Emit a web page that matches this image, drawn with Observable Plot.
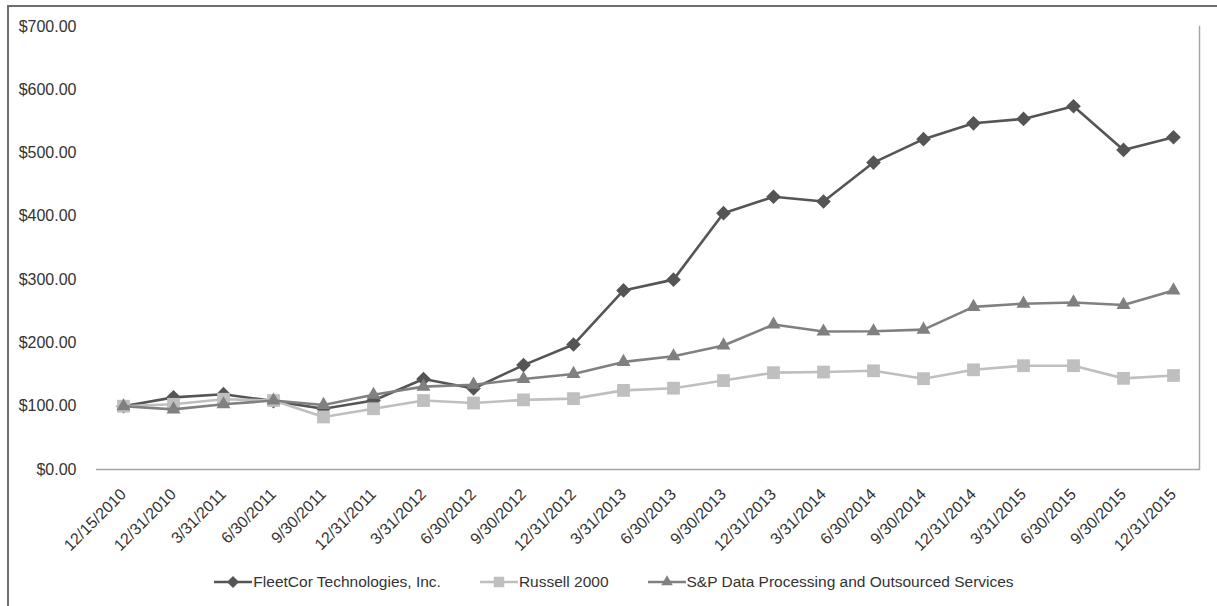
<!DOCTYPE html>
<html>
<head>
<meta charset="utf-8">
<script src="https://cdn.jsdelivr.net/npm/d3@7"></script>
<script src="https://cdn.jsdelivr.net/npm/@observablehq/plot@0.6"></script>
<style>
  html, body { margin: 0; padding: 0; background: #fff; }
  #wrap { position: relative; width: 1217px; height: 606px; overflow: hidden; font-family: "Liberation Sans", Arial, sans-serif; }
  #border { position: absolute; left: 7px; top: 5px; right: -4px; bottom: -4px; border-left: 2px solid #6e6e6e; border-top: 2px solid #6e6e6e; pointer-events: none; }
  #legend { display: flex; justify-content: center; align-items: center; height: 52px; padding-left: 11px; gap: 39px; font-size: 15.5px; color: #333; }
  .item { display: flex; align-items: center; }
  .item svg { display: block; margin-right: 1px; }
</style>
</head>
<body>
<div id="wrap">
  <div id="chart"></div>
  <div id="legend"></div>
  <div id="border"></div>
</div>
<script>
const dates = ["12/15/2010","12/31/2010","3/31/2011","6/30/2011","9/30/2011","12/31/2011","3/31/2012","6/30/2012","9/30/2012","12/31/2012","3/31/2013","6/30/2013","9/30/2013","12/31/2013","3/31/2014","6/30/2014","9/30/2014","12/31/2014","3/31/2015","6/30/2015","9/30/2015","12/31/2015"];
const fleetcor = [100, 114, 119, 108, 96, 109, 143, 128, 165, 197.5, 283, 300, 405, 431, 423.5, 485, 522, 547, 554, 574, 505, 525];
const russell = [100, 103, 111, 109, 83, 96, 109, 105, 110, 112, 125, 128.5, 140.5, 153, 154, 156, 143.5, 157.5, 164, 164, 144, 148.5];
const sp = [100, 95, 103, 109, 102, 118, 131, 134, 143, 151, 170, 179, 196, 229, 218, 218.5, 221, 257, 262, 264, 260, 283];
const seriesNames = ["FleetCor Technologies, Inc.", "Russell 2000", "S&P Data Processing and Outsourced Services"];
const yTicks = [0, 100, 200, 300, 400, 500, 600, 700];

const series = [
  {name: seriesNames[0], values: fleetcor, color: "#555555", symbol: "diamond2", r: 6.6},
  {name: seriesNames[1], values: russell, color: "#bfbfbf", symbol: "square", r: 7.2},
  {name: seriesNames[2], values: sp, color: "#808080", symbol: "triangle", r: 5.2}
];

const marks = [
  Plot.ruleY([0], {stroke: "#a6a6a6", strokeWidth: 1.5}),
  Plot.frame({anchor: "right", stroke: "#a6a6a6", strokeWidth: 1.5})
];
for (const s of series) {
  const rows = dates.map((d, i) => ({date: d, value: s.values[i]}));
  marks.push(Plot.line(rows, {x: "date", y: "value", stroke: s.color, strokeWidth: 2.6}));
  marks.push(Plot.dot(rows, {x: "date", y: "value", fill: s.color, symbol: s.symbol, r: s.r, stroke: "none"}));
}

const chart = Plot.plot({
  width: 1217,
  height: 556,
  marginLeft: 96,
  marginRight: 18,
  marginTop: 26,
  marginBottom: 87,
  style: {fontFamily: "'Liberation Sans', Arial, sans-serif", fontSize: "16px", color: "#333", background: "transparent"},
  x: {type: "point", domain: dates, padding: 0.5, label: null, tickRotate: -45, tickSize: 0, tickPadding: 22},
  y: {domain: [0, 700], ticks: yTicks, tickFormat: d => "$" + d.toFixed(2), label: null, tickSize: 0, tickPadding: 20},
  marks
});
document.getElementById("chart").appendChild(chart);

// legend
const legend = d3.select("#legend");
for (const s of series) {
  const item = legend.append("div").attr("class", "item");
  const svg = item.append("svg").attr("width", 38).attr("height", 16);
  svg.append("line").attr("x1", 0).attr("x2", 38).attr("y1", 8).attr("y2", 8)
    .attr("stroke", s.color).attr("stroke-width", 2.6);
  const symMap = {diamond2: d3.symbolDiamond2, square: d3.symbolSquare, triangle: d3.symbolTriangle};
  const size = Math.PI * Math.pow(s.r * 0.82, 2);
  svg.append("path").attr("d", d3.symbol(symMap[s.symbol], size)())
    .attr("transform", "translate(19,8)").attr("fill", s.color);
  item.append("span").text(s.name);
}
</script>
</body>
</html>
